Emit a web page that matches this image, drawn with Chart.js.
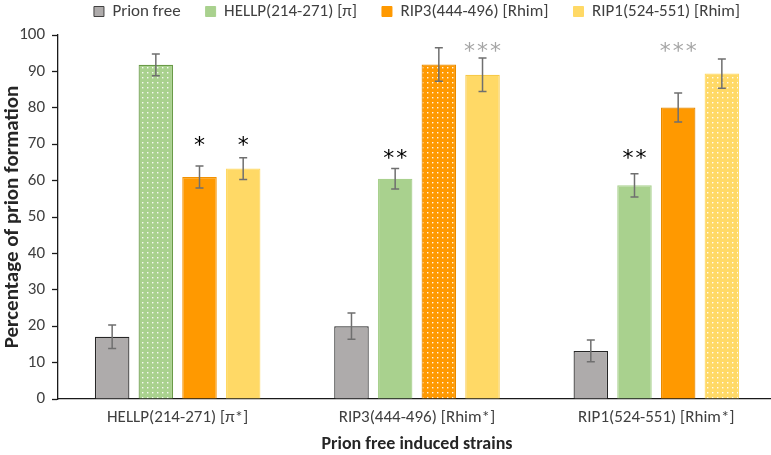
<!DOCTYPE html>
<html>
<head>
<meta charset="utf-8">
<script src="https://cdn.jsdelivr.net/npm/chart.js@4.4.1/dist/chart.umd.min.js"></script>
<style>
  body { margin: 0; overflow: hidden; background: #fff; }
  #wrap { width: 780px; height: 455px; position: relative; }
</style>
</head>
<body>
<div id="wrap"><canvas id="myChart"></canvas></div>
<script>
// categories and series
var strains = ["HELLP(214-271) [π*]", "RIP3(444-496) [Rhim*]", "RIP1(524-551) [Rhim*]"];
var seriesNames = ["Prion free", "HELLP(214-271) [π]", "RIP3(444-496) [Rhim]", "RIP1(524-551) [Rhim]"];

var prionFree = [17.1, 20.0, 13.2];
var hellp     = [91.8, 60.5, 58.7];
var rip3      = [61.0, 91.9, 80.1];
var rip1      = [63.3, 89.1, 89.4];

// error bar half widths
var prionFreeErr = [3.2, 3.6, 3.0];
var hellpErr     = [3.0, 2.8, 3.2];
var rip3Err      = [3.0, 4.6, 4.0];
var rip1Err      = [3.0, 4.6, 4.0];

// significance marks and the level they sit at
var hellpStars = ["", "**", "**"];
var rip3Stars  = ["*", "", "***"];
var rip1Stars  = ["*", "***", ""];
var hellpStarLevel = [null, 68, 68];
var rip3StarLevel  = [71.6, null, 97.4];
var rip1StarLevel  = [71.6, 97.4, null];

var yTicks = [0, 10, 20, 30, 40, 50, 60, 70, 80, 90, 100];

var FONT = "Carlito, Lato, 'Liberation Sans', sans-serif";
var TEXT = '#404040';

function dots(base) {
    var c = document.createElement('canvas');
    c.width = 5; c.height = 5;
    var g = c.getContext('2d');
    g.fillStyle = base;
    g.fillRect(0, 0, 5, 5);
    g.fillStyle = 'rgba(255,255,255,0.9)';
    g.fillRect(2, 2, 1.4, 1.4);
    return g.createPattern(c, 'repeat');
}

var gray = '#aeabab', green = '#a9d18e', orange = '#ff9900', yellow = '#ffd966';

// a bit more room under the legend
var legendGap = {
    id: 'legendGap',
    beforeLayout: function(chart) {
        var lg = chart.legend;
        if (lg && !lg._gapDone) {
            var fit = lg.fit;
            lg.fit = function() { fit.call(this); this.height += 5; };
            lg._gapDone = true;
        }
    }
};

var errorBars = {
    id: 'errorBars',
    afterDatasetsDraw: function(chart) {
        var ctx = chart.ctx;
        var y = chart.scales.y;
        ctx.save();
        ctx.strokeStyle = '#6f6f6f';
        ctx.lineWidth = 1.5;
        chart.data.datasets.forEach(function(ds, i) {
            var meta = chart.getDatasetMeta(i);
            meta.data.forEach(function(bar, j) {
                var v = ds.data[j], e = ds.err[j];
                var top = y.getPixelForValue(v + e), bot = y.getPixelForValue(v - e);
                ctx.beginPath();
                ctx.moveTo(bar.x, top); ctx.lineTo(bar.x, bot);
                ctx.moveTo(bar.x - 4, top); ctx.lineTo(bar.x + 4, top);
                ctx.moveTo(bar.x - 4, bot); ctx.lineTo(bar.x + 4, bot);
                ctx.stroke();
            });
        });
        ctx.restore();
    }
};

var starMarks = {
    id: 'starMarks',
    afterDatasetsDraw: function(chart) {
        var ctx = chart.ctx;
        var y = chart.scales.y;
        ctx.save();
        ctx.font = "22px 'DejaVu Sans', sans-serif";
        ctx.textAlign = 'center';
        ctx.textBaseline = 'alphabetic';
        chart.data.datasets.forEach(function(ds, i) {
            if (!ds.stars) return;
            var meta = chart.getDatasetMeta(i);
            meta.data.forEach(function(bar, j) {
                var s = ds.stars[j];
                if (!s) return;
                ctx.fillStyle = s.length == 3 ? '#a6a6a6' : '#000';
                ctx.letterSpacing = '2px';
                ctx.fillText(s, bar.x + 1, y.getPixelForValue(ds.starLevel[j]) + 14);
            });
        });
        ctx.restore();
    }
};

var chartdata = {
    labels: strains,
    datasets: [
        {
            label: seriesNames[0],
            data: prionFree,
            err: prionFreeErr,
            backgroundColor: gray,
            borderColor: '#262626',
            borderWidth: 1.2
        },
        {
            label: seriesNames[1],
            data: hellp,
            err: hellpErr,
            stars: hellpStars,
            starLevel: hellpStarLevel,
            backgroundColor: [dots(green), green, green],
            borderColor: ['#6a9a48', green, green],
            borderWidth: 1.2
        },
        {
            label: seriesNames[2],
            data: rip3,
            err: rip3Err,
            stars: rip3Stars,
            starLevel: rip3StarLevel,
            backgroundColor: [orange, dots(orange), orange],
            borderColor: ['#f29100', '#e88a00', '#e88a00'],
            borderWidth: 1.2
        },
        {
            label: seriesNames[3],
            data: rip1,
            err: rip1Err,
            stars: rip1Stars,
            starLevel: rip1StarLevel,
            backgroundColor: [yellow, yellow, dots(yellow)],
            borderColor: [yellow, '#f7c948', yellow],
            borderWidth: 1.2
        }
    ]
};

var legendFill = [gray, green, orange, yellow];

var graphTarget = document.getElementById('myChart');

var barGraph = new Chart(graphTarget, {
    type: 'bar',
    data: chartdata,
    plugins: [legendGap, errorBars, starMarks],
    options: {
        responsive: true,
        maintainAspectRatio: false,
        animation: false,
        layout: { padding: { top: -22, right: 4, left: 0, bottom: 0 } },
        datasets: {
            bar: { categoryPercentage: 0.73, barPercentage: 0.79 }
        },
        plugins: {
            tooltip: { enabled: false },
            legend: {
                position: 'top',
                fullSize: false,
                labels: {
                    boxWidth: 10,
                    boxHeight: 10,
                    padding: 25,
                    color: TEXT,
                    font: { family: FONT, size: 17 },
                    generateLabels: function(chart) {
                        return seriesNames.map(function(n, i) {
                            return {
                                text: n,
                                fillStyle: legendFill[i],
                                strokeStyle: i == 0 ? '#404040' : legendFill[i],
                                lineWidth: 1,
                                datasetIndex: i,
                                fontColor: TEXT
                            };
                        });
                    }
                }
            }
        },
        scales: {
            x: {
                grid: { display: false, drawTicks: false },
                border: { display: true, color: '#1a1a1a', width: 1.3 },
                ticks: { color: TEXT, font: { family: FONT, size: 17 }, padding: 9 },
                title: {
                    display: true,
                    text: 'Prion free induced strains',
                    color: '#262626',
                    font: { family: FONT, size: 18, weight: 'bold' },
                    padding: { top: 0, bottom: 0 }
                },
                afterFit: function(scale) { scale.height = 56; }
            },
            y: {
                min: 0,
                max: 100,
                afterBuildTicks: function(scale) {
                    scale.ticks = yTicks.map(function(v) { return { value: v }; });
                },
                grid: { drawOnChartArea: false, drawTicks: true, tickLength: 6, tickColor: '#1a1a1a', tickWidth: 1.3 },
                border: { display: true, color: '#1a1a1a', width: 1.3 },
                ticks: { color: TEXT, font: { family: FONT, size: 17 }, padding: 7 },
                title: {
                    display: true,
                    text: 'Percentage of prion formation',
                    color: '#262626',
                    font: { family: FONT, size: 21, weight: 'bold' },
                    padding: { top: 0, bottom: 0 }
                },
                afterFit: function(scale) { scale.width = 58; }
            }
        }
    }
});
</script>
</body>
</html>
